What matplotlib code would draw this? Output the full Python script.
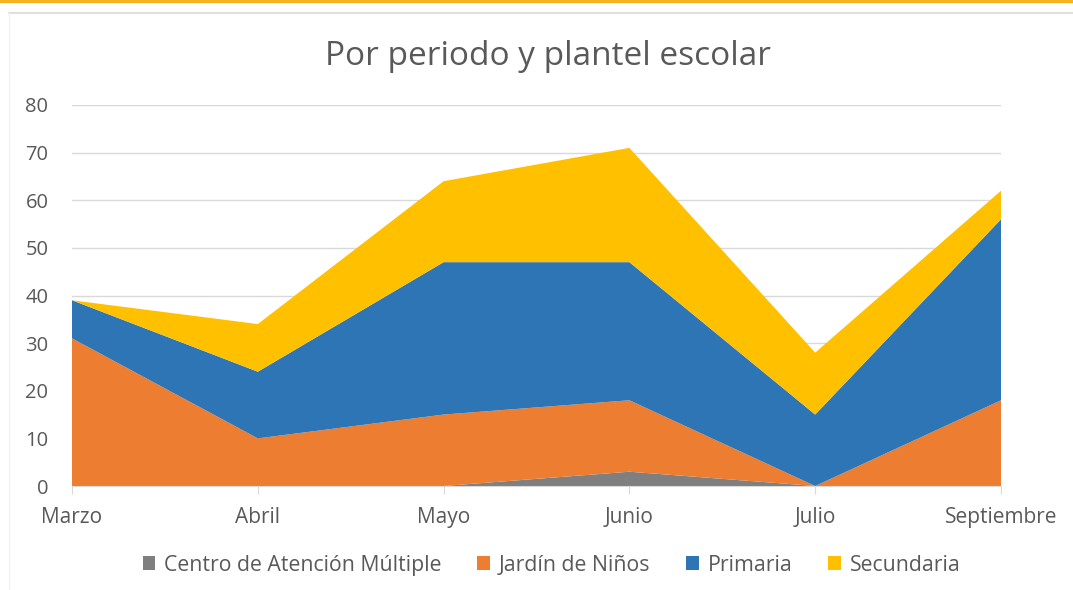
import matplotlib.pyplot as plt
from matplotlib.patches import Patch
from matplotlib.lines import Line2D

months = ["Marzo", "Abril", "Mayo", "Junio", "Julio", "Septiembre"]
centro = [0, 0, 0, 3, 0, 0]
jardin = [31, 10, 15, 15, 0, 18]
primaria = [8, 14, 32, 29, 15, 38]
secundaria = [0, 10, 17, 24, 13, 6]

series_names = ["Centro de Atención Múltiple", "Jardín de Niños", "Primaria", "Secundaria"]
colors = ["#7f7f7f", "#ed7d31", "#2e75b6", "#ffc000"]
text_color = "#595959"

plt.rcParams['font.family'] = ['Open Sans', 'DejaVu Sans']

fig = plt.figure(figsize=(10.73, 5.90), dpi=100)
fig.patch.set_facecolor("white")

# frame lines at the top, like the original screenshot
fig.add_artist(Line2D([0, 1], [0.998, 0.998], color="#f5b320", lw=3))
fig.add_artist(Line2D([0.008, 1], [0.978, 0.978], color="#d9d9d9", lw=1.2))
fig.add_artist(Line2D([0.008, 0.008], [0, 0.978], color="#f2f2f2", lw=1))

ax = fig.add_axes([72 / 1073, 1 - 486 / 590, (1001 - 72) / 1073, (486 - 105) / 590])
x = list(range(len(months)))
ax.stackplot(x, centro, jardin, primaria, secundaria, colors=colors, linewidth=0)

ax.set_xlim(0, len(months) - 1)
ax.set_ylim(0, 80)
ax.set_yticks(range(0, 81, 10))
ax.set_xticks(x)
ax.set_xticklabels(months)
ax.grid(axis="y", color="#d9d9d9", lw=1)
ax.set_axisbelow(True)
for side in ["top", "right", "left"]:
    ax.spines[side].set_visible(False)
ax.spines["bottom"].set_color("#d9d9d9")
ax.tick_params(axis="y", length=0, labelsize=14.5, labelcolor=text_color, pad=17)
ax.tick_params(axis="x", length=6, color="#d9d9d9", labelsize=15, labelcolor=text_color, pad=9)

fig.text(0.511, 0.905, "Por periodo y plantel escolar", ha="center", va="center",
         fontsize=24, color=text_color)

handles = [Patch(facecolor=c, edgecolor="none") for c in colors]
fig.legend(handles, series_names, loc="center", bbox_to_anchor=(0.514, 0.042), ncol=4,
           frameon=False, fontsize=15.3, labelcolor=text_color, handlelength=0.6,
           handleheight=0.6, handletextpad=0.4, columnspacing=1.7)

fig.savefig("out.png", dpi=100, facecolor="white")
